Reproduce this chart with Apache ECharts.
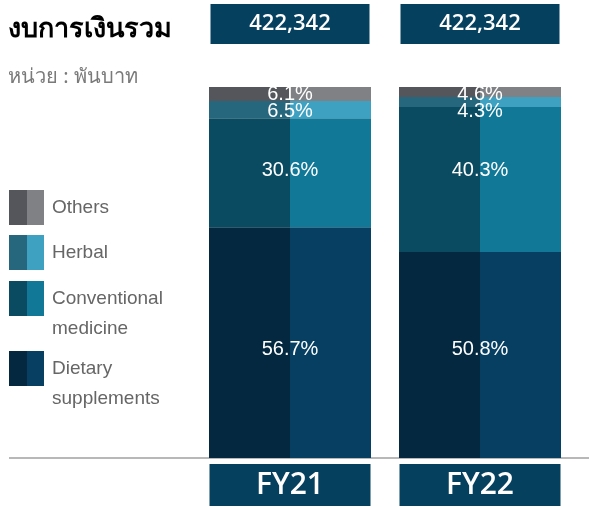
<!DOCTYPE html>
<html>
<head>
<meta charset="utf-8">
<script src="https://cdn.jsdelivr.net/npm/echarts@6/dist/echarts.min.js"></script>
<style>
  html, body { margin: 0; padding: 0; background: #fff; }
  #chart { width: 589px; height: 507px; }
</style>
</head>
<body>
<div id="chart"></div>
<script>
var categories = ['FY21', 'FY22'];
var totals = ['422,342', '422,342'];
var segNames = ['Dietary supplements', 'Conventional medicine', 'Herbal', 'Others'];
// segment heights (share of bar height)
var dietary = [62.2, 55.5];
var conventional = [29.4, 39.1];
var herbal = [4.6, 2.7];
var others = [3.8, 2.7];
// printed percentages
var dietaryPct = ['56.7%', '50.8%'];
var conventionalPct = ['30.6%', '40.3%'];
var herbalPct = ['6.5%', '4.3%'];
var othersPct = ['6.1%', '4.6%'];

var colorsLeft = ['#042840', '#0b4b62', '#27677d', '#55565b'];
var colorsRight = ['#063f62', '#117897', '#3ea1c1', '#808185'];
var values = [dietary, conventional, herbal, others];
var pctLabels = [dietaryPct, conventionalPct, herbalPct, othersPct];
var labelY = [348, 169, 110, 93];

var myChart = echarts.init(document.getElementById('chart'));

var series = [];
for (var i = 0; i < values.length; i++) {
  series.push({
    name: segNames[i] + ' L', type: 'bar', stack: 'left', barWidth: 81, barGap: '0%',
    data: values[i], itemStyle: { color: colorsLeft[i] }, silent: true
  });
}
for (var i = 0; i < values.length; i++) {
  series.push({
    name: segNames[i] + ' R', type: 'bar', stack: 'right', barWidth: 81, barGap: '0%',
    data: values[i], itemStyle: { color: colorsRight[i] }, silent: true
  });
}

var legendItems = [
  { y: 190, text: 'Others', idx: 3 },
  { y: 235, text: 'Herbal', idx: 2 },
  { y: 281, text: 'Conventional\nmedicine', idx: 1 },
  { y: 351, text: 'Dietary\nsupplements', idx: 0 }
];
var graphics = [
  { id: 'title', type: 'text', left: 8, top: 16, style: { text: 'งบการเงินรวม', font: 'bold 27px "Noto Sans", sans-serif', fill: '#000' } },
  { id: 'unit', type: 'text', left: 8, top: 67, style: { text: 'หน่วย : พันบาท', font: '20px "Noto Sans", sans-serif', fill: '#7a7a7a' } },
  { id: 'base', type: 'line', shape: { x1: 9, y1: 458, x2: 589, y2: 458 }, style: { stroke: '#a0a0a0', lineWidth: 1.5 } }
];
legendItems.forEach(function (it, n) {
  graphics.push({ id: 'lgL' + n, type: 'rect', shape: { x: 9, y: it.y, width: 18, height: 35 }, style: { fill: colorsLeft[it.idx] } });
  graphics.push({ id: 'lgR' + n, type: 'rect', shape: { x: 27, y: it.y, width: 17, height: 35 }, style: { fill: colorsRight[it.idx] } });
  graphics.push({ id: 'lgT' + n, type: 'text', x: 52, y: it.y + 3, style: {
    text: it.text, font: '19px "Liberation Sans", sans-serif', fill: '#666',
    verticalAlign: 'top', lineHeight: 30
  } });
});

var optionMain = {
  animation: false,
  grid: { left: 195, right: 14, top: 87, bottom: 49 },
  xAxis: [{
    type: 'category', data: categories,
    axisLine: { show: false }, axisTick: { show: false },
    axisLabel: {
      margin: 6, color: '#fff', fontFamily: 'Open Sans', fontWeight: 600, fontSize: 30,
      backgroundColor: '#06405f', width: 161, height: 42, lineHeight: 42, align: 'center', verticalAlign: 'top'
    }
  }, {
    type: 'category', data: categories, position: 'top',
    axisLine: { show: false }, axisTick: { show: false },
    axisLabel: {
      margin: 43, color: '#fff', fontFamily: 'Open Sans', fontWeight: 600, fontSize: 22,
      backgroundColor: '#06405f', width: 159, height: 40, lineHeight: 40, align: 'center',
      formatter: function (v, i) { return totals[i]; }
    }
  }],
  yAxis: { type: 'value', min: 0, max: 100, show: false },
  series: series,
  graphic: graphics
};
myChart.setOption(optionMain);

// percentage labels centred on each bar
var extra = [];
categories.forEach(function (c, ci) {
  var cx = myChart.convertToPixel({ gridIndex: 0 }, [ci, 0])[0];
  for (var k = 0; k < pctLabels.length; k++) {
    extra.push({ id: 'pct' + ci + '_' + k, type: 'text', x: cx, y: labelY[k] + 1, z: 100, style: {
      text: pctLabels[k][ci], font: '20px "Liberation Sans", sans-serif', fill: '#fff',
      align: 'center', verticalAlign: 'middle'
    } });
  }
});
myChart.setOption({ graphic: extra });
</script>
</body>
</html>
